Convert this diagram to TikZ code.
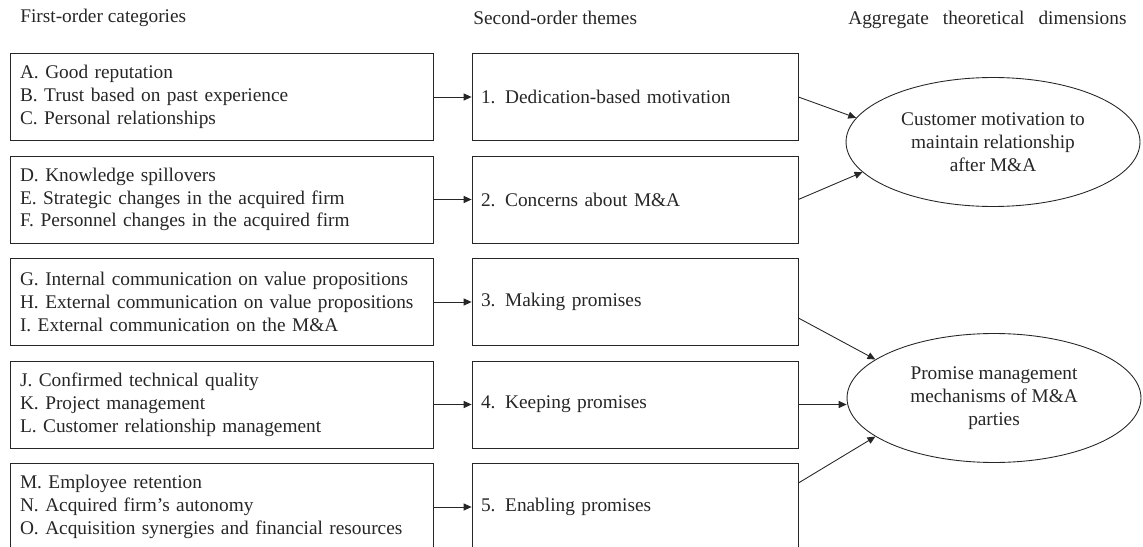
\documentclass[tikz,border=0pt]{standalone}
\usepackage{fontspec}
\setmainfont{Liberation Serif}
\usetikzlibrary{arrows.meta,positioning,shapes.geometric}
\colorlet{InkGray}{black!85}

\begin{document}
\begin{tikzpicture}[x=0.02cm,y=-0.02cm,
  every node/.style={font=\fontsize{11}{13}\selectfont,text=InkGray},
  hdr/.style={anchor=west,inner sep=0pt},
  catbox/.style={draw=InkGray,line width=0.5pt,minimum width=8.46cm,minimum height=1.74cm,
    text width=8.06cm,align=left,inner xsep=0.2cm,inner ysep=0pt},
  themebox/.style={draw=InkGray,line width=0.5pt,minimum width=6.52cm,minimum height=1.74cm,
    text width=6.16cm,align=left,inner xsep=0.18cm,inner ysep=0pt},
  dimnode/.style={ellipse,draw=InkGray,line width=0.5pt,minimum width=5.88cm,
    minimum height=2.58cm,align=center},
  link/.style={draw=InkGray,line width=0.5pt,-{Triangle[length=4.5pt,width=4pt]}}]
  \useasboundingbox (0,0) rectangle (1143,547);
  \clip (0,0) rectangle (1143,547);

  % column headings
  \node[hdr] (h1) at (20,18) {First-order categories};
  \node[hdr] (h2) at (473,18) {Second-order themes};
  \node[hdr] (h3) at (848,20) {\spaceskip=8pt\relax Aggregate theoretical dimensions};

  % first-order categories
  \node[catbox] (c1) at (221.5,97)  {A. Good reputation\\B. Trust based on past experience\\C. Personal relationships};
  \node[catbox] (c2) at (221.5,199.5) {D. Knowledge spillovers\\E. Strategic changes in the acquired firm\\F. Personnel changes in the acquired firm};
  \node[catbox] (c3) at (221.5,302) {G. Internal communication on value propositions\\H. External communication on value propositions\\I. External communication on the M\&A};
  \node[catbox] (c4) at (221.5,404.5) {J. Confirmed technical quality\\K. Project management\\L. Customer relationship management};
  \node[catbox] (c5) at (221.5,507) {M. Employee retention\\N. Acquired firm's autonomy\\O. Acquisition synergies and financial resources};

  % second-order themes
  \node[themebox] (t1) at (635,97)  {1. Dedication-based motivation};
  \node[themebox] (t2) at (635,199.5) {2. Concerns about M\&A};
  \node[themebox] (t3) at (635,302) {3. Making promises};
  \node[themebox] (t4) at (635,404.5) {4. Keeping promises};
  \node[themebox] (t5) at (635,507) {5. Enabling promises};

  % aggregate dimensions
  \node[dimnode] (d1) at (993,142) {Customer motivation to\\maintain relationship\\after M\&A};
  \node[dimnode] (d2) at (994,398) {Promise management\\mechanisms of M\&A\\parties};

  \foreach \i in {1,...,5}
    \draw[link] (c\i) -- (t\i);

  \draw[link] (t1.east) -- (d1.170);
  \draw[link] (t2.east) -- (d1.193);
  \draw[link] ([yshift=-0.32cm]t3.east) -- (d2.162);
  \draw[link] (t4.east) -- (t4.east -| d2.west);
  \draw[link] ([yshift=0.48cm]t5.east) -- (d2.198);
\end{tikzpicture}
\end{document}
